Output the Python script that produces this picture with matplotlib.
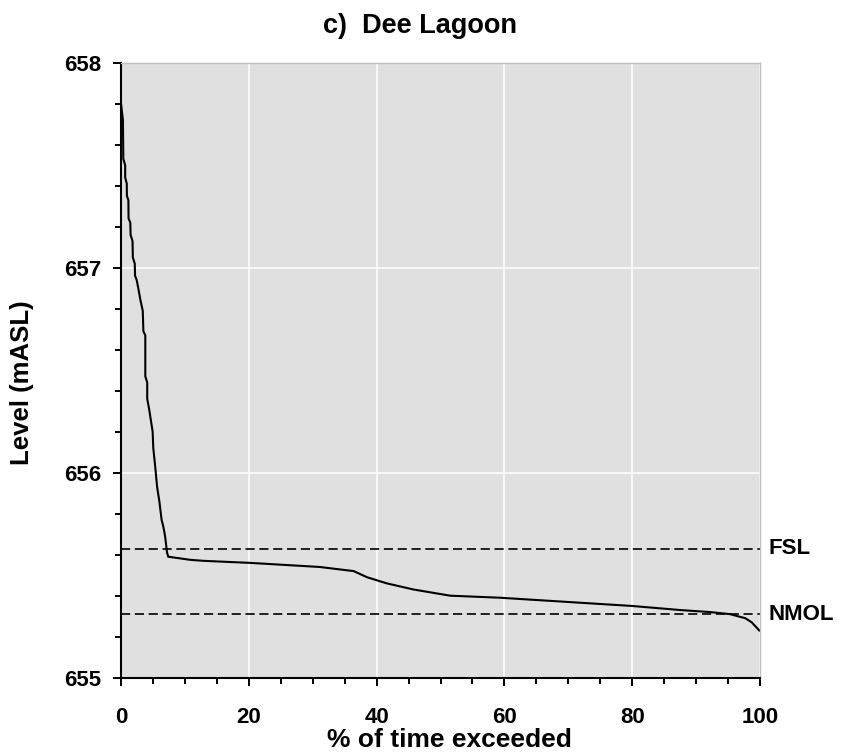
"""
Dee Lagoon level duration curve
"""

import matplotlib
matplotlib.use("Agg")
import matplotlib.pyplot as plt
from matplotlib.ticker import MultipleLocator

plt.rcParams["font.family"] = ["Liberation Sans", "DejaVu Sans"]
plt.rcParams["font.weight"] = "bold"

# % of time exceeded vs lake level (mASL)
pct_exceeded = [
    0.0, 0.3, 0.36, 0.65, 0.65, 0.9, 0.92, 1.15, 1.18, 1.45, 1.5, 1.8,
    1.85, 2.15, 2.2, 2.45, 2.7, 3.05, 3.4, 3.5, 3.8, 3.8, 4.1, 4.1, 4.4,
    4.65, 4.95, 5.05, 5.35, 5.65, 6.0, 6.35, 6.6, 6.9, 7.2, 7.4, 10.8,
    12.9, 20.2, 31.1, 36.4, 38.5, 41.6, 45.8, 51.5, 59.3, 79.9, 87.5,
    92.2, 95.3, 97.7, 98.7, 99.6, 99.9,
]
level_masl = [
    657.80, 657.72, 657.53, 657.50, 657.44, 657.41, 657.35, 657.33, 657.24,
    657.22, 657.16, 657.13, 657.05, 657.02, 656.96, 656.94, 656.90, 656.84,
    656.79, 656.69, 656.67, 656.47, 656.44, 656.36, 656.31, 656.26, 656.20,
    656.12, 656.03, 655.93, 655.86, 655.77, 655.74, 655.69, 655.61, 655.59,
    655.575, 655.57, 655.56, 655.54, 655.52, 655.49, 655.46, 655.43, 655.40,
    655.39, 655.35, 655.33, 655.32, 655.31, 655.29, 655.27, 655.24, 655.23,
]

# reference levels
ref_names = ["FSL", "NMOL"]
ref_levels = [655.63, 655.31]


def style_axes(ax):
    ax.set_facecolor("#e0e0e0")
    ax.set_xlim(0, 100)
    ax.set_ylim(655, 658)

    ax.xaxis.set_major_locator(MultipleLocator(20))
    ax.xaxis.set_minor_locator(MultipleLocator(5))
    ax.yaxis.set_major_locator(MultipleLocator(1))
    ax.yaxis.set_minor_locator(MultipleLocator(0.2))

    ax.grid(True, which="major", color="white", linewidth=1.1)
    ax.set_axisbelow(True)

    ax.tick_params(axis="both", which="major", direction="out", length=6,
                   width=1.4, labelsize=16, color="black")
    ax.tick_params(axis="both", which="minor", direction="out", length=4.5,
                   width=1.4, color="black")
    ax.tick_params(axis="x", which="major", pad=15)
    ax.tick_params(axis="y", which="major", pad=8)

    for side in ["left", "bottom"]:
        ax.spines[side].set_color("black")
        ax.spines[side].set_linewidth(1.5)
    for side in ["top", "right"]:
        ax.spines[side].set_color("#c0c0c0")
        ax.spines[side].set_linewidth(1.0)


def main():
    fig = plt.figure(figsize=(8.41, 7.56), dpi=100)
    ax = fig.add_axes([0.1439, 0.1036, 0.7598, 0.8135])
    style_axes(ax)

    # FSL / NMOL dashed lines with labels on the right
    for name, lvl in zip(ref_names, ref_levels):
        ax.axhline(lvl, color="black", linewidth=1.2, linestyle=(0, (5.5, 2.8)))
        ax.text(101.3, lvl, name, ha="left", va="center", fontsize=16,
                fontweight="bold", clip_on=False)

    ax.plot(pct_exceeded, level_masl, color="black", linewidth=1.5,
            solid_joinstyle="miter")

    fig.text(0.4995, 0.966, "c)  Dee Lagoon", ha="center", va="center",
             fontsize=19.5, fontweight="bold")
    fig.text(449 / 841, 1 - 740 / 756, "% of time exceeded", ha="center",
             va="center", fontsize=19, fontweight="bold")
    fig.text(22 / 841, 1 - 383 / 756, "Level (mASL)", ha="center",
             va="center", rotation=90, fontsize=18.5, fontweight="bold")

    fig.savefig("out.png", dpi=100)


if __name__ == "__main__":
    main()
